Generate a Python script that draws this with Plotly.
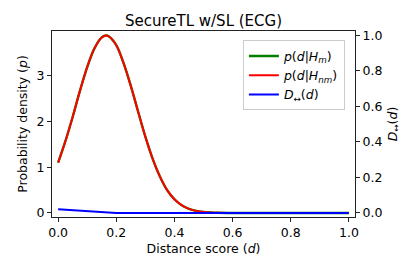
import plotly.graph_objects as go

# Data
d_values = [0.0, 0.025, 0.05, 0.075, 0.1, 0.125, 0.15, 0.165, 0.175, 0.2, 0.225, 0.25,
            0.275, 0.3, 0.325, 0.35, 0.375, 0.4, 0.425, 0.45, 0.475, 0.5, 0.525, 0.55,
            0.6, 0.7, 0.8, 0.9, 1.0]
p_match = [1.10, 1.57, 2.10, 2.67, 3.19, 3.60, 3.84, 3.88, 3.86, 3.67, 3.28, 2.78,
           2.22, 1.67, 1.19, 0.80, 0.50, 0.30, 0.17, 0.09, 0.046, 0.022, 0.010, 0.004,
           0.0005, 0.0, 0.0, 0.0, 0.0]
p_nonmatch = [1.10, 1.57, 2.10, 2.67, 3.19, 3.60, 3.84, 3.88, 3.86, 3.67, 3.28, 2.78,
              2.22, 1.67, 1.19, 0.80, 0.50, 0.30, 0.17, 0.09, 0.046, 0.022, 0.010, 0.004,
              0.0005, 0.0, 0.0, 0.0, 0.0]
d_div = [0.0, 0.05, 0.1, 0.15, 0.2, 0.25, 0.5, 0.75, 1.0]
div_values = [0.021, 0.015, 0.009, 0.004, 0.0005, 0.0, 0.0, 0.0, 0.0]

x_tickvals = [0.0, 0.2, 0.4, 0.6, 0.8, 1.0]
x_ticktext = ["0.0", "0.2", "0.4", "0.6", "0.8", "1.0"]
y_tickvals = [0, 1, 2, 3]
y_ticktext = ["0", "1", "2", "3"]
y2_tickvals = [0.0, 0.2, 0.4, 0.6, 0.8, 1.0]
y2_ticktext = ["0.0", "0.2", "0.4", "0.6", "0.8", "1.0"]

FONT = "DejaVu Sans"

fig = go.Figure()
fig.add_trace(go.Scatter(x=d_values, y=p_match, mode="lines",
                         line=dict(color="#008000", width=2.4, shape="spline"),
                         name="<i>p</i>(<i>d</i>|<i>H</i><sub><i>m</i></sub>)"))
fig.add_trace(go.Scatter(x=d_values, y=p_nonmatch, mode="lines",
                         line=dict(color="#ff0000", width=2, shape="spline"),
                         name="<i>p</i>(<i>d</i>|<i>H</i><sub><i>nm</i></sub>)"))
fig.add_trace(go.Scatter(x=d_div, y=div_values, mode="lines", yaxis="y2",
                         line=dict(color="#0000ff", width=2),
                         name="<i>D</i><sub>↔</sub>(<i>d</i>)"))

axis_common = dict(showgrid=False, zeroline=False, showline=True, linecolor="#222",
                   linewidth=1, ticks="outside", ticklen=4, tickcolor="#222",
                   automargin=False,
                   tickfont=dict(family=FONT, size=12.5, color="black"))

# the page body adds an 8px offset, so the figure is 8px smaller and margins shifted
fig.update_layout(
    width=408, height=263,
    margin=dict(l=44, r=61, t=23, b=54, autoexpand=False),
    paper_bgcolor="white", plot_bgcolor="white",
    font=dict(family=FONT, size=12.5, color="black"),
    title=dict(text="SecureTL w/SL (ECG)", x=0.5, xref="paper", xanchor="center",
               y=1, yref="paper", yanchor="bottom", pad=dict(b=5), automargin=False,
               font=dict(family=FONT, size=15, color="black")),
    xaxis=dict(range=[-0.021, 1.021], tickvals=x_tickvals, ticktext=x_ticktext,
               mirror=True,
               title=dict(text="Distance score (<i>d</i>)", standoff=5,
                          font=dict(family=FONT, size=12.5)),
               **axis_common),
    yaxis=dict(range=[-0.088, 3.98], tickvals=y_tickvals, ticktext=y_ticktext,
               title=dict(text="Probability density (<i>p</i>)", standoff=6,
                          font=dict(family=FONT, size=12.5)),
               **axis_common),
    yaxis2=dict(range=[-0.0226, 1.025], tickvals=y2_tickvals, ticktext=y2_ticktext,
                overlaying="y", side="right",
                title=dict(text="<i>D</i><sub>↔</sub>(<i>d</i>)", standoff=6,
                           font=dict(family=FONT, size=12.5)),
                **axis_common),
    legend=dict(x=0.63, y=0.95, xanchor="left", yanchor="top",
                bgcolor="rgba(255,255,255,0.8)", bordercolor="#cccccc", borderwidth=1,
                font=dict(family=FONT, size=12.5), tracegroupgap=0, itemwidth=30),
    showlegend=True,
)

fig.write_html("out.html")
